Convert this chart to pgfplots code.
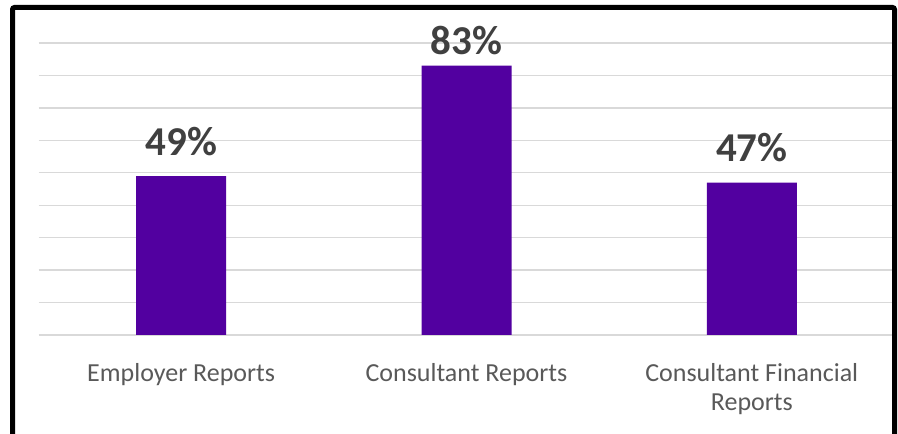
\documentclass[border=0pt]{standalone}
\usepackage{fontspec}
\setmainfont{Carlito}
\usepackage{pgfplots}
\pgfplotsset{compat=1.18}

\definecolor{barpurple}{RGB}{82,0,160}
\definecolor{gridgray}{RGB}{217,217,217}
\definecolor{labelgray}{RGB}{89,89,89}
\definecolor{valuegray}{RGB}{64,64,64}

\begin{document}
\begin{tikzpicture}
\useasboundingbox (0,0) rectangle (898bp,434bp);

\begin{axis}[
scale only axis,
at={(38.5bp,99bp)}, anchor=south west,
width=856bp, height=292bp,
xmin=-0.5, xmax=2.5,
ymin=0, ymax=90,
ytick={0,10,...,90},
yticklabels={},
xtick={0,1,2},
xticklabels={Employer Reports, Consultant Reports, {Consultant Financial\\Reports}},
xticklabel style={align=center, text=labelgray, font=\fontsize{26bp}{29bp}\selectfont, yshift=-25bp},
major tick length=0pt,
axis line style={draw=none},
ymajorgrids,
y grid style={gridgray, line width=1.4bp},
clip=false,
]
\addplot [ybar, bar width=90bp, fill=barpurple, draw=none,
  visualization depends on={\thisrow{shift} \as \lblshift},
  nodes near coords={\pgfmathprintnumber[assume math mode=true]{\pgfplotspointmeta}\%},
  nodes near coords style={anchor=base, inner sep=0pt, yshift=\lblshift bp,
    text=valuegray, font=\fontsize{41bp}{46bp}\selectfont\bfseries}]
table {%
x y shift
0 49 21
1 83 11
2 47 21
};
\end{axis}

\draw [line width=5bp, rounded corners=2bp] (12.5bp,-20bp) -- (12.5bp,426.5bp) -- (894.5bp,426.5bp) -- (894.5bp,-20bp);
\end{tikzpicture}
\end{document}
